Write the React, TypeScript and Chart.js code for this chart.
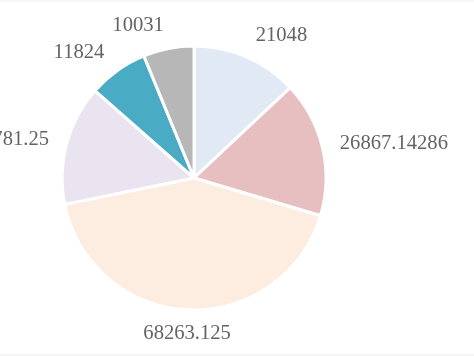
import React, { useEffect, useRef } from "react";
import { Chart, registerables } from "chart.js";

Chart.register(...registerables);

const labels = ["A", "B", "C", "D", "E", "F"];
const values = [21048, 26867.14286, 68263.125, 23781.25, 11824, 10031];
const labelTexts = ["21048", "26867.14286", "68263.125", "23781.25", "11824", "10031"];
const colors = ["#e1eaf4", "#e7bfc0", "#fdede1", "#e9e4f0", "#4aabc5", "#b7b7b7"];

const outsideLabels = {
  id: "outsideLabels",
  afterDatasetsDraw(chart: any) {
    const ctx = chart.ctx;
    const meta = chart.getDatasetMeta(0);
    ctx.save();
    ctx.font = '20.6px "Liberation Serif", serif';
    ctx.fillStyle = "#646464";
    ctx.textBaseline = "middle";
    meta.data.forEach((arc: any, i: number) => {
      const mid = (arc.startAngle + arc.endAngle) / 2;
      const dx = Math.cos(mid);
      const dy = Math.sin(mid);
      const R = arc.outerRadius + 16 + 8 * Math.abs(dy);
      const x = arc.x + R * dx;
      const y = arc.y + R * dy;
      if (Math.abs(dx) < 0.15) ctx.textAlign = "center";
      else ctx.textAlign = dx > 0 ? "left" : "right";
      ctx.fillText(labelTexts[i], x, y);
    });
    ctx.restore();
  },
};

export default function App() {
  const ref = useRef<HTMLCanvasElement | null>(null);
  useEffect(() => {
    document.body.style.margin = "0";
    const chart = new Chart(ref.current as HTMLCanvasElement, {
      type: "pie",
      data: {
        labels,
        datasets: [
          {
            data: values,
            backgroundColor: colors,
            borderColor: "#ffffff",
            borderWidth: 3,
          },
        ],
      },
      options: {
        animation: false,
        responsive: false,
        radius: 132,
        layout: { padding: { left: 0, right: 86, top: 0, bottom: 0 } },
        plugins: { legend: { display: false }, tooltip: { enabled: false } },
      } as any,
      plugins: [outsideLabels],
    });
    return () => chart.destroy();
  }, []);
  return (
    <div style={{ position: "relative", width: 474, height: 356, background: "#ffffff" }}>
      <div style={{ position: "absolute", left: 0, top: 0, width: 474, height: 2, background: "#f6f6f6" }} />
      <div style={{ position: "absolute", left: 0, top: 354, width: 474, height: 2, background: "#f6f6f6" }} />
      <canvas ref={ref} width={474} height={356} style={{ position: "absolute", left: 0, top: 0 }} />
    </div>
  );
}
